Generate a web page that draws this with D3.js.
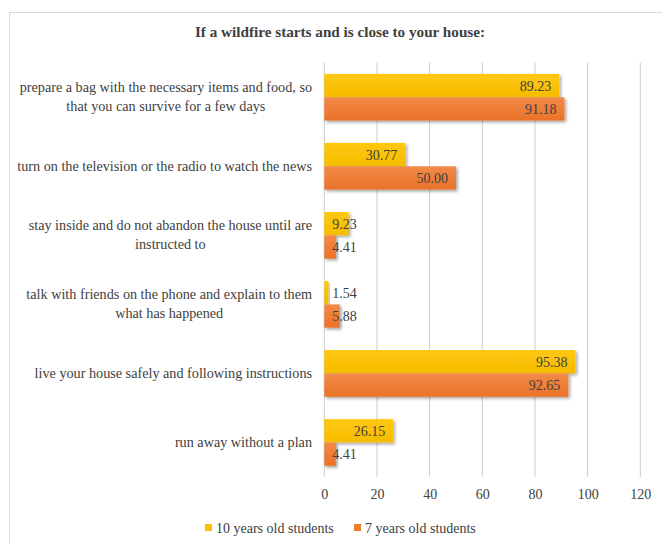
<!DOCTYPE html>
<html>
<head>
<meta charset="utf-8">
<script src="https://cdn.jsdelivr.net/npm/d3@7"></script>
<style>
  html, body { margin: 0; padding: 0; background: #fff; }
  svg { display: block; }
</style>
</head>
<body>
<svg id="chart" width="662" height="544"></svg>
<script>
// Survey answers: what pupils would do if a wildfire starts close to their house
const categories = [
  "prepare a bag with the necessary items and food, so that you can survive for a few days",
  "turn on the television or the radio to watch the news",
  "stay inside and do not abandon the house until are instructed to",
  "talk with friends on the phone and explain to them what has happened",
  "live your house safely and following instructions",
  "run away without a plan"
];
const seriesNames = ["10 years old students", "7 years old students"];
const tenYearOld = [89.23, 30.77, 9.23, 1.54, 95.38, 26.15];
const sevenYearOld = [91.18, 50.00, 4.41, 5.88, 92.65, 4.41];
const xTicks = [0, 20, 40, 60, 80, 100, 120];
const title = "If a wildfire starts and is close to your house:";

const colors = { yellow: "#FFC000", orange: "#ED7D31" };
const textColor = "#404040";
const serif = "'Liberation Serif', serif";

const svg = d3.select("#chart");
const defs = svg.append("defs");

// soft outer shadow under each bar
const shadow = defs.append("filter").attr("id", "barShadow")
  .attr("x", "-10%").attr("y", "-20%").attr("width", "130%").attr("height", "160%");
shadow.append("feDropShadow").attr("dx", 1.8).attr("dy", 1.8)
  .attr("stdDeviation", 1.4).attr("flood-color", "#000").attr("flood-opacity", 0.35);

function gradient(id, top, bottom) {
  const g = defs.append("linearGradient").attr("id", id)
    .attr("x1", 0).attr("y1", 0).attr("x2", 0).attr("y2", 1);
  g.append("stop").attr("offset", "0%").attr("stop-color", top);
  g.append("stop").attr("offset", "100%").attr("stop-color", bottom);
}
gradient("gradYellow", "#FFC80E", "#F5BC00");
gradient("gradOrange", "#F28A48", "#EA7228");

// chart frame
svg.append("rect")
  .attr("x", 9.5).attr("y", 12.5).attr("width", 700).attr("height", 600)
  .attr("fill", "#fff").attr("stroke", "#d9d9d9").attr("stroke-width", 1);

const plot = { left: 324.3, right: 640.3, top: 62.7, bottom: 477 };

const x = d3.scaleLinear().domain([0, 120]).range([plot.left, plot.right]);
const y = d3.scaleBand().domain(d3.range(categories.length))
  .range([plot.top, plot.bottom]).paddingInner(0.324).paddingOuter(0.162);
const sub = d3.scaleBand().domain([0, 1]).range([0, y.bandwidth()]);

// title
svg.append("text")
  .attr("x", 340).attr("y", 37)
  .attr("text-anchor", "middle")
  .attr("font-family", serif)
  .attr("font-size", 15.2).attr("font-weight", "bold")
  .attr("fill", textColor)
  .text(title);

// vertical gridlines
svg.append("g").selectAll("line").data(xTicks).join("line")
  .attr("x1", d => x(d)).attr("x2", d => x(d))
  .attr("y1", plot.top).attr("y2", plot.bottom)
  .attr("stroke", "#cccccc").attr("stroke-width", 1);

// x axis tick labels
const xAxis = d3.axisBottom(x).tickValues(xTicks).tickSize(0).tickPadding(0);
const xg = svg.append("g").attr("transform", `translate(0,${plot.bottom + 12})`).call(xAxis);
xg.attr("font-family", serif).attr("font-size", 14);
xg.select(".domain").remove();
xg.selectAll("text")
  .attr("font-family", serif)
  .attr("font-size", 14).attr("fill", textColor);

// category labels, wrapped and centred line by line, right aligned to the axis
const labelRight = 312;
const maxLabelWidth = 300;
const labelG = svg.append("g");
categories.forEach((cat, i) => {
  const t = labelG.append("text")
    .attr("font-family", serif)
    .attr("font-size", 14.2).attr("fill", textColor);
  const words = cat.split(" ");
  const lines = [];
  let line = [];
  const probe = t.append("tspan");
  words.forEach(w => {
    const trial = line.concat(w).join(" ");
    probe.text(trial);
    if (probe.node().getComputedTextLength() > maxLabelWidth && line.length) {
      lines.push(line.join(" "));
      line = [w];
    } else {
      line.push(w);
    }
  });
  lines.push(line.join(" "));
  // widest line sets the block width
  const widths = lines.map(l => { probe.text(l); return probe.node().getComputedTextLength(); });
  probe.remove();
  const blockW = d3.max(widths);
  const cx = labelRight - blockW / 2;
  const lh = 19;
  const cy = y(i) + y.bandwidth() / 2;
  lines.forEach((l, k) => {
    t.append("tspan")
      .attr("x", cx).attr("text-anchor", "middle")
      .attr("y", cy + (k - (lines.length - 1) / 2) * lh + 4.5)
      .text(l);
  });
});

// bars
const rows = categories.map((c, i) => ({ i, values: [tenYearOld[i], sevenYearOld[i]] }));
const fills = ["url(#gradYellow)", "url(#gradOrange)"];

const groups = svg.append("g").selectAll("g").data(rows).join("g")
  .attr("transform", d => `translate(0,${y(d.i)})`);

groups.selectAll("rect")
  .data(d => d.values.map((v, s) => ({ v, s })))
  .join("rect")
  .attr("x", x(0))
  .attr("y", d => sub(d.s))
  .attr("width", d => x(d.v) - x(0))
  .attr("height", sub.bandwidth())
  .attr("fill", d => fills[d.s])
  .attr("filter", "url(#barShadow)");

// value labels at the inner end of each bar
groups.selectAll("text.val")
  .data(d => d.values.map((v, s) => ({ v, s })))
  .join("text")
  .attr("class", "val")
  .attr("font-family", serif)
  .attr("font-size", 14).attr("fill", textColor)
  .attr("y", d => sub(d.s) + sub.bandwidth() / 2 + 5)
  .text(d => d.v.toFixed(2))
  .each(function (d) {
    const w = this.getComputedTextLength();
    const endX = x(d.v) - 8;
    const minStart = x(0) + 8;
    d3.select(this).attr("x", Math.max(endX - w, minStart));
  });

// legend
const legend = svg.append("g").attr("transform", "translate(0,528)");
const legendItems = [
  { name: seriesNames[0], color: colors.yellow, x: 205 },
  { name: seriesNames[1], color: colors.orange, x: 354 }
];
legendItems.forEach(it => {
  legend.append("rect").attr("x", it.x).attr("y", -4).attr("width", 7).attr("height", 7)
    .attr("fill", it.color);
  legend.append("text").attr("x", it.x + 11).attr("y", 4.5)
    .attr("font-family", serif)
    .attr("font-size", 14).attr("fill", textColor).text(it.name);
});
</script>
</body>
</html>
